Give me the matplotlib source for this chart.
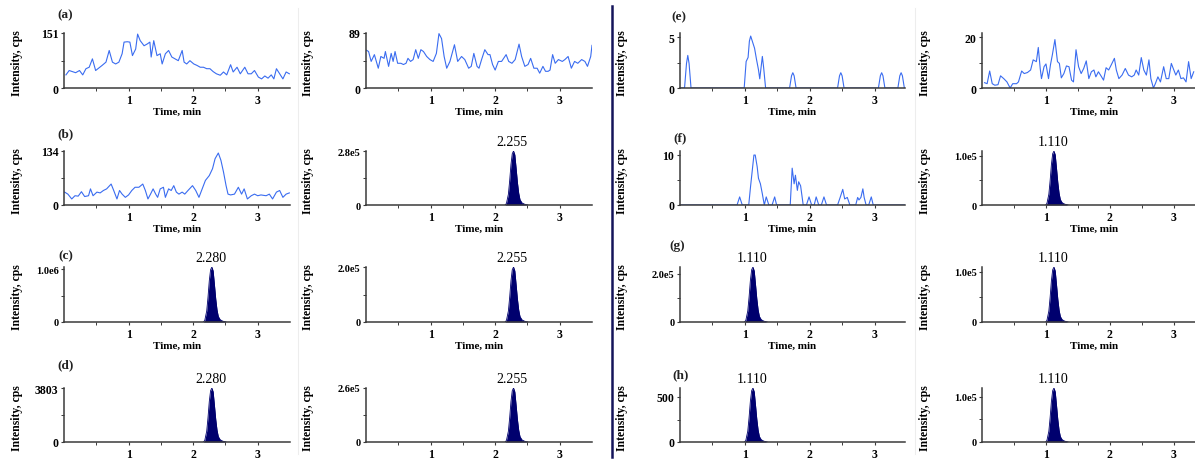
import matplotlib
matplotlib.use("Agg")
import matplotlib.pyplot as plt
import numpy as np

plt.rcParams['font.family'] = ['Liberation Serif', 'DejaVu Serif']

W, H = 1195, 464

# ---- noise traces (time in min, intensity in cps) ----
a_t = [0.03, 0.08, 0.13, 0.18, 0.24, 0.29, 0.34, 0.39, 0.44, 0.49, 0.54, 0.59,
       0.65, 0.70, 0.75, 0.80, 0.85, 0.90, 0.93, 0.98, 1.02, 1.06, 1.11, 1.14,
       1.18, 1.24, 1.29, 1.33, 1.35, 1.39, 1.44, 1.49, 1.52, 1.57, 1.62, 1.67,
       1.72, 1.77, 1.83, 1.86, 1.90, 1.95, 2.01, 2.06, 2.11, 2.16, 2.21, 2.26,
       2.31, 2.36, 2.42, 2.47, 2.52, 2.58, 2.62, 2.68, 2.73, 2.80, 2.85, 2.90,
       2.95, 3.01, 3.06, 3.11, 3.16, 3.21, 3.25, 3.29, 3.34, 3.39, 3.44, 3.49]
a_v = [36, 48, 45, 42, 48, 36, 53, 57, 80, 48, 55, 62,
       71, 103, 71, 66, 71, 94, 126, 127, 126, 89, 107, 148,
       130, 116, 121, 126, 85, 130, 89, 94, 66, 94, 103, 85,
       80, 75, 103, 71, 66, 75, 66, 62, 57, 57, 53, 53,
       45, 39, 35, 44, 36, 64, 44, 57, 39, 57, 39, 39,
       48, 30, 25, 33, 27, 36, 25, 53, 39, 25, 44, 39]

a2_t = [0.01, 0.04, 0.08, 0.13, 0.19, 0.23, 0.28, 0.30, 0.35, 0.39, 0.42, 0.45,
        0.49, 0.54, 0.58, 0.62, 0.65, 0.69, 0.73, 0.77, 0.81, 0.85, 0.89, 0.94,
        0.99, 1.04, 1.09, 1.13, 1.17, 1.21, 1.25, 1.30, 1.37, 1.42, 1.48, 1.53,
        1.59, 1.63, 1.67, 1.72, 1.75, 1.79, 1.84, 1.89, 1.92, 1.96, 2.00, 2.05,
        2.10, 2.17, 2.21, 2.26, 2.31, 2.37, 2.41, 2.46, 2.51, 2.55, 2.60, 2.65,
        2.69, 2.74, 2.78, 2.82, 2.85, 2.89, 2.93, 2.98, 3.04, 3.08, 3.13, 3.18,
        3.23, 3.28, 3.34, 3.39, 3.43, 3.48, 3.50]
a2_v = [61, 59, 43, 54, 32, 51, 48, 59, 35, 56, 43, 59,
        40, 40, 38, 40, 48, 43, 46, 62, 48, 62, 59, 51,
        46, 43, 56, 88, 80, 51, 32, 43, 70, 43, 51, 46,
        32, 35, 56, 35, 32, 46, 62, 54, 54, 38, 29, 43,
        43, 54, 43, 40, 46, 71, 51, 35, 38, 48, 32, 32,
        24, 35, 27, 27, 29, 54, 40, 46, 43, 46, 51, 32,
        43, 40, 46, 43, 35, 51, 69]

b_t = [0.01, 0.06, 0.12, 0.17, 0.22, 0.27, 0.32, 0.38, 0.41, 0.45, 0.51, 0.56,
       0.61, 0.66, 0.73, 0.77, 0.82, 0.86, 0.90, 0.95, 1.00, 1.05, 1.10, 1.16,
       1.22, 1.26, 1.30, 1.34, 1.38, 1.42, 1.45, 1.49, 1.54, 1.57, 1.62, 1.66,
       1.70, 1.74, 1.78, 1.83, 1.87, 1.92, 1.99, 2.04, 2.09, 2.14, 2.19, 2.25,
       2.30, 2.34, 2.39, 2.43, 2.47, 2.51, 2.54, 2.58, 2.64, 2.70, 2.75, 2.79,
       2.84, 2.90, 2.95, 3.00, 3.05, 3.13, 3.18, 3.23, 3.29, 3.34, 3.39, 3.44,
       3.49]
b_v = [32, 27, 15, 23, 22, 33, 21, 23, 40, 23, 32, 30,
       36, 40, 52, 36, 15, 36, 27, 19, 25, 36, 44, 44,
       52, 36, 15, 27, 40, 27, 19, 40, 44, 19, 40, 36,
       48, 32, 27, 32, 27, 36, 48, 36, 19, 40, 61, 73,
       90, 115, 129, 111, 82, 48, 27, 25, 27, 44, 27, 40,
       15, 23, 27, 23, 25, 23, 27, 15, 32, 36, 19, 27,
       30]

e_t = [0.00, 0.07, 0.10, 0.12, 0.14, 0.17,
       0.99, 1.02, 1.05, 1.07, 1.09, 1.12, 1.15, 1.18, 1.21, 1.23, 1.25, 1.27, 1.29, 1.32,
       1.69, 1.72, 1.74, 1.76, 1.79,
       2.43, 2.46, 2.48, 2.50, 2.53,
       3.06, 3.09, 3.11, 3.13, 3.16,
       3.36, 3.39, 3.41, 3.43, 3.46]
e_v = [0, 0, 2.4, 3.2, 2.4, 0,
       0, 2.6, 3.0, 4.6, 5.1, 4.5, 3.9, 2.8, 1.8, 0.9, 2.0, 3.1, 2.0, 0,
       0, 1.2, 1.5, 1.2, 0,
       0, 1.2, 1.5, 1.2, 0,
       0, 1.2, 1.5, 1.2, 0,
       0, 1.2, 1.5, 1.2, 0]

e2_t = [0.04, 0.08, 0.12, 0.16, 0.20, 0.25, 0.29, 0.34, 0.39, 0.44, 0.48, 0.54,
        0.57, 0.62, 0.66, 0.71, 0.76, 0.80, 0.85, 0.88, 0.91, 0.93, 0.97, 1.00,
        1.04, 1.07, 1.10, 1.14, 1.18, 1.21, 1.24, 1.28, 1.32, 1.36, 1.40, 1.43,
        1.47, 1.51, 1.55, 1.59, 1.63, 1.67, 1.71, 1.75, 1.78, 1.82, 1.86, 1.90,
        1.94, 1.98, 2.02, 2.07, 2.10, 2.14, 2.19, 2.24, 2.29, 2.34, 2.38, 2.41,
        2.45, 2.49, 2.53, 2.57, 2.61, 2.64, 2.68, 2.71, 2.75, 2.79, 2.84, 2.88,
        2.92, 2.96, 2.99, 3.03, 3.07, 3.11, 3.15, 3.19, 3.23, 3.27, 3.31]
e2_v = [2.1, 1.7, 6.7, 1.7, 1.1, 1.3, 4.8, 3.7, 2.4, 0, 1.7, 1.7,
        2.4, 6.7, 5.7, 6.1, 7.1, 11.1, 10.4, 16.0, 7.7, 3.7, 8.4, 9.5,
        3.7, 9.1, 13.1, 19.1, 10.4, 9.7, 4.0, 5.7, 8.7, 8.4, 3.1, 2.4,
        15.1, 8.4, 5.7, 7.7, 10.7, 3.7, 6.4, 7.1, 4.4, 6.4, 4.8, 3.1,
        8.0, 7.1, 9.1, 11.7, 7.1, 3.7, 5.1, 7.7, 5.1, 4.4, 5.1, 7.1,
        5.1, 12.0, 7.1, 5.1, 11.1, 3.7, 0, 1.7, 4.4, 2.4, 8.4, 3.7,
        3.7, 9.7, 7.7, 5.1, 7.1, 3.7, 4.0, 2.4, 10.4, 3.7, 6.4]

f_t = [0.00, 0.88, 0.92, 0.96,
       1.06, 1.09, 1.11, 1.14, 1.16, 1.19, 1.21, 1.24, 1.27, 1.30,
       1.33, 1.37, 1.42, 1.46, 1.49,
       1.70, 1.73, 1.76, 1.78, 1.81, 1.83, 1.86, 1.88, 1.90,
       1.95, 1.99, 2.03, 2.07, 2.10, 2.14, 2.18, 2.22, 2.26,
       2.43, 2.47, 2.51, 2.54, 2.58, 2.62,
       2.71, 2.74, 2.76, 2.79, 2.82, 2.84, 2.87,
       2.91, 2.95, 2.98, 3.47]
f_v = [0, 0, 1.6, 0,
       0, 3.9, 6.3, 9.9, 9.9, 7.6, 5.3, 4.2, 2.2, 0,
       1.6, 0, 0, 1.6, 0,
       0, 7.3, 4.2, 5.9, 2.9, 4.6, 3.8, 1.9, 0,
       0, 1.6, 0, 0, 1.6, 0, 0, 1.6, 0,
       0, 1.5, 3.1, 1.2, 1.5, 0,
       0, 1.5, 1.0, 1.5, 3.2, 1.5, 0,
       0, 1.6, 0, 0]

# noise panels: name -> (trace times, trace values, axis top, y tick value, y tick text)
noise_panels = {
    'a':  (a_t, a_v, 151, 151, '151'),
    'a2': (a2_t, a2_v, 89, 89, '89'),
    'b':  (b_t, b_v, 134, 134, '134'),
    'e':  (e_t, e_v, 5.4, 5, '5'),
    'e2': (e2_t, e2_v, 21.7, 20, '20'),
    'f':  (f_t, f_v, 10.7, 10, '10'),
}

# shape of the filled peaks: offset from apex (min) and fraction of apex height
peak_dt = [-0.13, -0.11, -0.08, -0.06, -0.04, -0.02, 0.0, 0.02, 0.04, 0.06,
           0.08, 0.10, 0.13, 0.17, 0.22]
peak_rel = [0, 0.03, 0.2, 0.45, 0.75, 0.95, 1.0, 0.93, 0.68, 0.42,
            0.22, 0.10, 0.04, 0.015, 0]

# peak panels: name -> (apex time, rt label, apex height, y tick value, y tick text)
peak_panels = {
    'b2': (2.285, '2.255', 2.8e5, 2.8e5, '2.8e5'),
    'c':  (2.29, '2.280', 1.04e6, 1.0e6, '1.0e6'),
    'c2': (2.285, '2.255', 2.0e5, 2.0e5, '2.0e5'),
    'd':  (2.29, '2.280', 3803, 3803, '3803'),
    'd2': (2.285, '2.255', 2.6e5, 2.6e5, '2.6e5'),
    'f2': (1.125, '1.110', 1.1e5, 1.0e5, '1.0e5'),
    'g':  (1.125, '1.110', 2.29e5, 2.0e5, '2.0e5'),
    'g2': (1.125, '1.110', 1.1e5, 1.0e5, '1.0e5'),
    'h':  (1.125, '1.110', 600, 500, '500'),
    'h2': (1.125, '1.110', 1.19e5, 1.0e5, '1.0e5'),
}

# ---- layout (pixels) ----
col_left = [64, 366, 680, 982]
col_right = [290, 592, 905, 1195]
col_xmax = [3.5, 3.5, 3.47, 3.33]
col_ylab_x = [17, 308, 622, 925]
row_top = [34, 152, 268, 389]
row_bot = [89, 206, 323, 443]
grid = [['a', 'a2', 'e', 'e2'],
        ['b', 'b2', 'f', 'f2'],
        ['c', 'c2', 'g', 'g2'],
        ['d', 'd2', 'h', 'h2']]
letters = {'a': (65, 15), 'b': (65, 134), 'c': (66, 256), 'd': (66, 365),
           'e': (679, 17), 'f': (680, 138), 'g': (677, 246), 'h': (681, 375)}

line_col = '#3a6cf0'
peak_col = '#00006e'
spine_col = '#3a3a3a'

fig = plt.figure(figsize=(W / 100, H / 100), dpi=100)


def px(x, y):
    return x / W, 1 - y / H


def style_ax(ax, xmax, ytop, ytick, ytext):
    ax.set_xlim(0, xmax)
    ax.set_ylim(0, ytop)
    for s in ['top', 'right']:
        ax.spines[s].set_visible(False)
    for s in ['left', 'bottom']:
        ax.spines[s].set_color(spine_col)
        ax.spines[s].set_linewidth(1.1)
        ax.spines[s].set_zorder(5)
    ax.set_xticks([1, 2, 3])
    ax.set_xticks([v for v in [0.5, 1.5, 2.5, 3.5] if v < xmax], minor=True)
    ax.set_xticklabels(['1', '2', '3'], fontsize=8.5, fontweight='bold')
    ax.set_yticks([0, ytick])
    ax.set_yticks([ytick / 2], minor=True)
    ax.set_yticklabels(['0', ytext], fontsize=7.5 if 'e' in ytext else 8.5,
                       fontweight='bold')
    ax.tick_params(which='major', length=2.5, width=0.8, pad=1.5, color=spine_col)
    ax.tick_params(which='minor', length=2, width=0.7, color=spine_col)
    ax.patch.set_alpha(0)


for r in range(4):
    for c in range(4):
        name = grid[r][c]
        l, rt, t, b = col_left[c], col_right[c], row_top[r], row_bot[r]
        ax = fig.add_axes([l / W, 1 - b / H, (rt - l) / W, (b - t) / H])
        if name in noise_panels:
            tt, vv, ytop, ytick, ytext = noise_panels[name]
            ax.plot(tt, vv, color=line_col, lw=0.8, zorder=1)
        else:
            apex, rtlab, h, ytick, ytext = peak_panels[name]
            ytop = h
            pt = apex + np.array(peak_dt)
            pv = h * np.array(peak_rel)
            ax.fill_between(pt, 0, pv, color=peak_col, lw=0)
            ax.plot(pt, pv, color=peak_col, lw=0.6)
            ax.annotate(rtlab, xy=(apex - 0.02, h), xytext=(0, 4),
                        textcoords='offset points', ha='center', va='baseline',
                        fontsize=10, annotation_clip=False)
        style_ax(ax, col_xmax[c], ytop, ytick, ytext)

        fig.text(*px(col_ylab_x[c], (t + b) / 2 + 2), 'Intensity, cps',
                 rotation=90, ha='center', va='center', fontsize=8.5,
                 fontweight='bold')
        if r < 3:
            fig.text(*px((l + rt) / 2 + (6 if c == 3 else 0), b + 23), 'Time, min',
                     ha='center', va='center', fontsize=8, fontweight='bold')

for k, (x, y) in letters.items():
    fig.text(*px(x, y), '(%s)' % k, ha='center', va='center', fontsize=9.5,
             fontweight='bold', color='#222222')

# faint seams between the pasted panels and the dark divider
fig.add_artist(plt.Line2D([298 / W, 298 / W], [0.02, 0.98], color='#ededed', lw=0.8))
fig.add_artist(plt.Line2D([915 / W, 915 / W], [0.02, 0.98], color='#ededed', lw=0.8))
fig.add_artist(plt.Line2D([611.5 / W, 611.5 / W], [1 - 458 / H, 1 - 7 / H],
                          color='#14145a', lw=1.8))

fig.savefig('out.png', dpi=100)
